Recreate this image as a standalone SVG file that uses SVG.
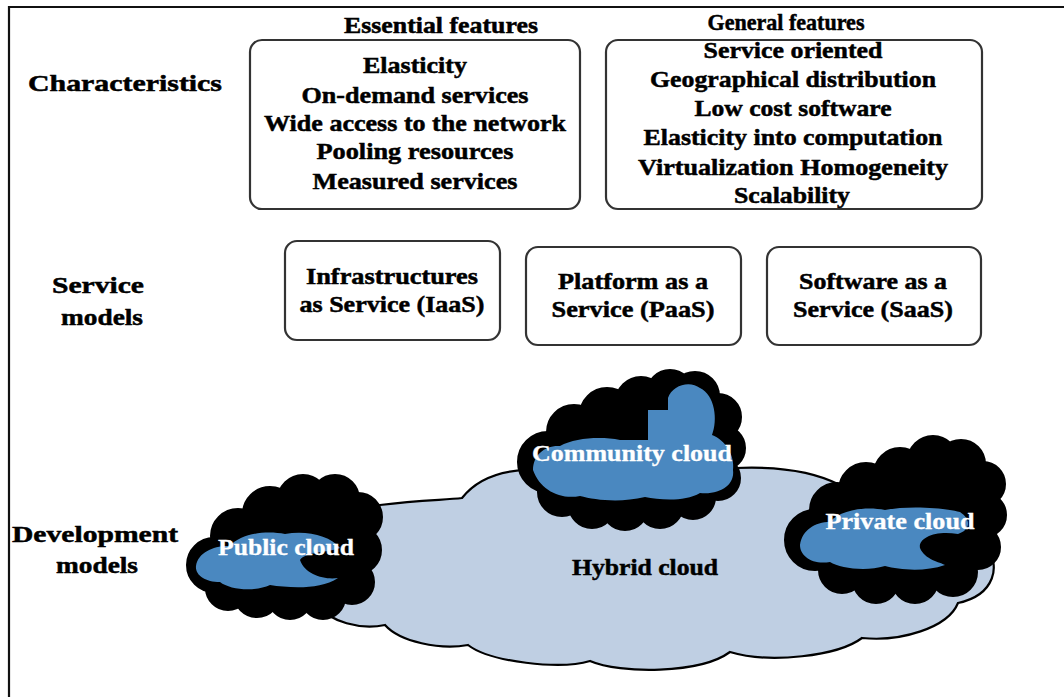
<svg xmlns="http://www.w3.org/2000/svg" width="1064" height="697" viewBox="0 0 1064 697">
<style>
.t{font-family:"Liberation Serif","Times New Roman",serif;font-weight:bold;font-size:24px;fill:#000;stroke:#000;stroke-width:0.5;text-anchor:middle}
.w{fill:#fff;stroke:#fff;stroke-width:0.3}
.box{fill:#fff;stroke:#333;stroke-width:2.2}
.blk{fill:#000;stroke:#000;stroke-width:2;stroke-linejoin:round}
.blue{fill:#4a88c0}
</style>
<rect width="1064" height="697" fill="#fff"/>
<path d="M9 697 V7 H1064" fill="none" stroke="#111" stroke-width="2.2"/>

<g id="labels">
<text class="t" x="125" y="91" textLength="194" lengthAdjust="spacingAndGlyphs">Characteristics</text>
<text class="t" x="98" y="293" textLength="92" lengthAdjust="spacingAndGlyphs">Service</text>
<text class="t" x="102" y="325" textLength="82" lengthAdjust="spacingAndGlyphs">models</text>
<text class="t" x="95" y="542" textLength="166" lengthAdjust="spacingAndGlyphs">Development</text>
<text class="t" x="97" y="573" textLength="82" lengthAdjust="spacingAndGlyphs">models</text>
</g>

<g id="essential">
<text class="t" x="441" y="33" textLength="194" lengthAdjust="spacingAndGlyphs">Essential features</text>
<rect class="box" x="250" y="40" width="330" height="169" rx="12"/>
<text class="t" x="415" y="73" textLength="104" lengthAdjust="spacingAndGlyphs">Elasticity</text>
<text class="t" x="415" y="103" textLength="227" lengthAdjust="spacingAndGlyphs">On-demand services</text>
<text class="t" x="415" y="131" textLength="302" lengthAdjust="spacingAndGlyphs">Wide access to the network</text>
<text class="t" x="415" y="159" textLength="197" lengthAdjust="spacingAndGlyphs">Pooling resources</text>
<text class="t" x="415" y="189" textLength="205" lengthAdjust="spacingAndGlyphs">Measured services</text>
</g>

<g id="general">
<text class="t" x="786" y="30" textLength="157" lengthAdjust="spacingAndGlyphs">General features</text>
<rect class="box" x="606" y="40" width="376" height="169" rx="12"/>
<text class="t" x="793" y="58" textLength="179" lengthAdjust="spacingAndGlyphs">Service oriented</text>
<text class="t" x="793" y="87" textLength="286" lengthAdjust="spacingAndGlyphs">Geographical distribution</text>
<text class="t" x="793" y="116" textLength="197" lengthAdjust="spacingAndGlyphs">Low cost software</text>
<text class="t" x="793" y="145" textLength="299" lengthAdjust="spacingAndGlyphs">Elasticity into computation</text>
<text class="t" x="793" y="175" textLength="310" lengthAdjust="spacingAndGlyphs">Virtualization Homogeneity</text>
<text class="t" x="792" y="203" textLength="116" lengthAdjust="spacingAndGlyphs">Scalability</text>
</g>

<g id="iaas">
<rect class="box" x="285" y="241" width="215" height="99" rx="12"/>
<text class="t" x="392" y="284" textLength="172" lengthAdjust="spacingAndGlyphs">Infrastructures</text>
<text class="t" x="392" y="312" textLength="185" lengthAdjust="spacingAndGlyphs">as Service (IaaS)</text>
</g>
<g id="paas">
<rect class="box" x="526" y="247" width="215" height="98" rx="12"/>
<text class="t" x="633" y="289" textLength="150" lengthAdjust="spacingAndGlyphs">Platform as a</text>
<text class="t" x="633" y="317" textLength="163" lengthAdjust="spacingAndGlyphs">Service (PaaS)</text>
</g>
<g id="saas">
<rect class="box" x="767" y="247" width="214" height="98" rx="12"/>
<text class="t" x="873" y="289" textLength="148" lengthAdjust="spacingAndGlyphs">Software as a</text>
<text class="t" x="873" y="317" textLength="160" lengthAdjust="spacingAndGlyphs">Service (SaaS)</text>
</g>

<g id="connectors"></g>

<g id="hybrid">
<path d="M380 505 C420 500 445 500 462 498 C480 475 510 468 545 470 L735 468 C780 466 815 472 840 485 L985 545 C1002 565 995 595 958 603 C948 628 900 642 862 638 C838 656 770 664 730 652 C700 674 620 674 590 661 C560 670 490 662 468 645 C440 650 400 642 385 625 C360 630 330 622 318 605 Z" fill="#bfcfe3" stroke="#000" stroke-width="2.2"/>
<text class="t" x="645" y="575" textLength="146" lengthAdjust="spacingAndGlyphs">Hybrid cloud</text>
</g>

<g id="public">
<g class="blk">
<polygon points="215,565 240,535 270,515 305,498 335,497 362,515 360,548 355,585 325,600 290,600 257,597 225,590"/>
<circle cx="214" cy="565" r="27"/><circle cx="238" cy="536" r="27"/><circle cx="270" cy="514" r="27"/>
<circle cx="303" cy="500" r="25"/><circle cx="335" cy="499" r="24"/><circle cx="358" cy="517" r="24"/>
<circle cx="357" cy="550" r="24"/><circle cx="352" cy="582" r="22"/><circle cx="323" cy="597" r="22"/>
<circle cx="290" cy="597" r="22"/><circle cx="257" cy="594" r="23"/><circle cx="228" cy="588" r="22"/>
</g>
<path class="blue" d="M196 566 C198 552 215 545 230 546 C240 534 265 530 285 534 C305 530 330 535 340 548 C330 552 305 552 300 560 C305 575 325 580 338 578 C320 590 290 588 270 585 C255 592 230 590 220 582 C205 582 195 575 196 566 Z"/>
<text class="t w" x="286" y="555" textLength="136" lengthAdjust="spacingAndGlyphs">Public cloud</text>
</g>

<g id="community">
<g class="blk">
<polygon points="548,462 572,432 605,415 640,400 672,390 695,393 722,415 728,448 722,480 695,500 660,508 625,510 590,508 560,495"/>
<circle cx="548" cy="462" r="30"/><circle cx="574" cy="432" r="27"/><circle cx="607" cy="415" r="27"/>
<circle cx="641" cy="402" r="25"/><circle cx="670" cy="393" r="23"/><circle cx="695" cy="396" r="24"/>
<circle cx="718" cy="417" r="23"/><circle cx="723" cy="448" r="22"/><circle cx="718" cy="478" r="22"/>
<circle cx="693" cy="497" r="22"/><circle cx="660" cy="505" r="23"/><circle cx="625" cy="507" r="23"/>
<circle cx="592" cy="505" r="23"/><circle cx="562" cy="492" r="24"/>
</g>
<path class="blue" d="M533 470 C533 455 545 445 560 446 C575 438 600 436 620 440 L648 440 L648 410 L668 410 L668 398 C672 385 690 380 700 388 C715 395 718 420 712 435 C725 440 735 455 733 470 C735 485 720 495 700 493 C685 502 660 500 645 497 C620 503 595 500 580 496 C560 500 540 490 533 470 Z"/>
<text class="t w" x="632" y="461" textLength="200" lengthAdjust="spacingAndGlyphs">Community cloud</text>
</g>

<g id="private">
<g class="blk">
<polygon points="815,540 835,510 865,490 900,472 935,458 962,462 985,482 985,515 980,548 955,575 915,582 875,582 840,572"/>
<circle cx="815" cy="540" r="30"/><circle cx="837" cy="510" r="27"/><circle cx="866" cy="490" r="27"/>
<circle cx="900" cy="474" r="26"/><circle cx="933" cy="461" r="25"/><circle cx="961" cy="464" r="24"/>
<circle cx="983" cy="484" r="22"/><circle cx="984" cy="515" r="22"/><circle cx="978" cy="547" r="22"/>
<circle cx="953" cy="572" r="24"/><circle cx="915" cy="580" r="23"/><circle cx="876" cy="580" r="23"/>
<circle cx="842" cy="570" r="23"/>
</g>
<path class="blue" d="M800 545 C802 530 815 522 830 522 C840 510 865 506 885 510 C910 505 945 508 960 512 C972 520 970 530 958 534 C935 530 918 538 920 548 C925 560 940 562 945 565 C925 572 900 570 885 566 C865 572 840 568 830 562 C812 565 800 556 800 545 Z"/>
<text class="t w" x="900" y="529" textLength="149" lengthAdjust="spacingAndGlyphs">Private cloud</text>
</g>
</svg>
